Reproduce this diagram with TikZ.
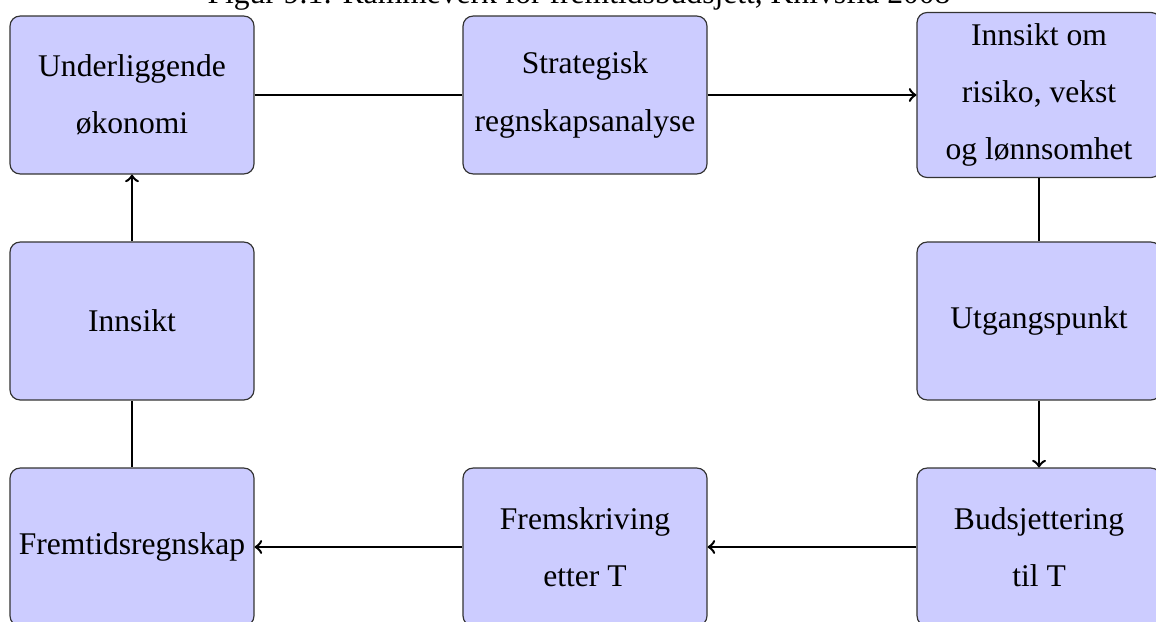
\documentclass[tikz,border=0pt]{standalone}
\usepackage{fontspec}
\setmainfont{Liberation Serif}
\begin{document}
\begin{tikzpicture}[x=0.38pt,y=-0.38pt,
  box/.style={draw=black!80, line width=0.45pt, fill=blue!20, rounded corners=3.8pt,
    minimum width=92.7pt, minimum height=60pt, align=center, inner sep=1pt,
    font=\fontsize{12}{21.7}\selectfont},
  conn/.style={line width=0.95pt},
  arr/.style={conn,->}]
\useasboundingbox (0,0) rectangle (1156,621);
\node[font=\fontsize{12}{14}\selectfont, anchor=base] (title) at (579,4) {Figur 9.1: Rammeverk for fremtidsbudsjett, Knivsflå 2008};
\node[box] (uo) at (132,95) {Underliggende\\økonomi};
\node[box] (sr) at (585,95) {Strategisk\\regnskapsanalyse};
\node[box, minimum height=62.7pt] (ir) at (1039,95) {Innsikt om\\risiko, vekst\\og lønnsomhet};
\node[box] (in) at (132,321) {Innsikt};
\node[box] (ut) at (1039,321) {Utgangspunkt};
\node[box] (fr) at (132,547) {Fremtidsregnskap};
\node[box] (fe) at (585,547) {Fremskriving\\etter T};
\node[box] (bt) at (1039,547) {Budsjettering\\til T};
\draw[conn] (uo) -- (sr);
\draw[arr] (sr) -- (ir);
\draw[conn] (ir) -- (ut);
\draw[arr] (ut) -- (bt);
\draw[arr] (bt) -- (fe);
\draw[arr] (fe) -- (fr);
\draw[conn] (fr) -- (in);
\draw[arr] (in) -- (uo);
\end{tikzpicture}
\end{document}
